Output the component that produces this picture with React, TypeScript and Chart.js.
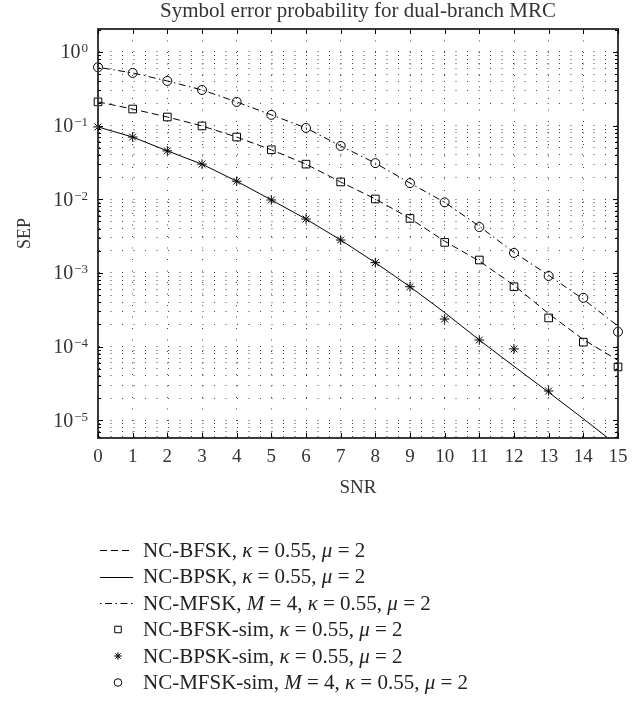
import React, { useEffect, useRef } from 'react';
import { Chart, registerables } from 'chart.js';
import { drawPoint } from 'chart.js/helpers';

Chart.register(...registerables);

// ---------------- data ----------------
const snr = [0, 1, 2, 3, 4, 5, 6, 7, 8, 9, 10, 11, 12, 13, 14, 15];

const bfskTheory = [0.21, 0.168, 0.131, 0.099, 0.07, 0.047, 0.03, 0.0172, 0.0101, 0.0055, 0.0027, 0.00145, 0.00068, 0.00028, 0.000125, 0.000065];
const bpskTheory = [0.096, 0.07, 0.0454, 0.03, 0.0176, 0.0098, 0.0054, 0.0028, 0.00138, 0.00065, 0.00029, 0.000123, 0.000054, 0.000024, 0.0000105, 0.0000045];
const mfskTheory = [0.62, 0.519, 0.404, 0.305, 0.21, 0.14, 0.093, 0.053, 0.031, 0.0166, 0.0091, 0.0043, 0.0019, 0.00093, 0.00044, 0.00019];

const bfskSim = [0.21, 0.168, 0.131, 0.099, 0.07, 0.047, 0.03, 0.0172, 0.0101, 0.0055, 0.0026, 0.0015, 0.00065, 0.000245, 0.000115, 0.000053];
const bpskSim = [0.096, 0.07, 0.0454, 0.03, 0.0176, 0.0098, 0.0054, 0.0028, 0.00138, 0.00065, 0.000237, 0.000123, 0.000093, 0.000025, null, null];
const mfskSim = [0.62, 0.519, 0.404, 0.305, 0.21, 0.14, 0.093, 0.053, 0.031, 0.0166, 0.0091, 0.0042, 0.00187, 0.00091, 0.00046, 0.000159];

const seriesLabels = [
  'NC-BFSK, κ = 0.55, μ = 2',
  'NC-BPSK, κ = 0.55, μ = 2',
  'NC-MFSK, M = 4, κ = 0.55, μ = 2',
  'NC-BFSK-sim, κ = 0.55, μ = 2',
  'NC-BPSK-sim, κ = 0.55, μ = 2',
  'NC-MFSK-sim, M = 4, κ = 0.55, μ = 2',
];

const xTickValues = [0, 1, 2, 3, 4, 5, 6, 7, 8, 9, 10, 11, 12, 13, 14, 15];
const decadeValues = [1e-5, 1e-4, 1e-3, 1e-2, 1e-1, 1];
const decadeBase = '10';
const decadeExponents = ['−5', '−4', '−3', '−2', '−1', '0'];
const minorMultipliers = [1, 2, 3, 4, 5, 6, 7, 8, 9];
const yMin = 5.75e-6;
const yMax = 2.05;

const titleText = 'Symbol error probability for dual-branch MRC';
const xTitle = 'SNR';
const yTitle = 'SEP';

const FONT = '"Liberation Serif", "Times New Roman", serif';
const TEXT_COLOR = '#333';
const FRAME_COLOR = '#3a3a3a';

function buildYTicks() {
  const out: { value: number; major: boolean }[] = [];
  const decs = [1e-6, ...decadeValues];
  for (const d of decs) {
    for (const m of minorMultipliers) {
      const v = parseFloat((d * m).toPrecision(6));
      if (v >= yMin && v <= yMax) out.push({ value: v, major: m === 1 });
    }
  }
  return out;
}

function decadeIndex(v: number) {
  return decadeValues.findIndex((d) => Math.abs(v - d) / d < 1e-6);
}

function drawRich(ctx: CanvasRenderingContext2D, text: string, x: number, y: number, size: number) {
  const parts = text.split(/(κ|μ|\bM\b)/).filter((p) => p.length > 0);
  let cx = x;
  for (const p of parts) {
    const italic = p === 'κ' || p === 'μ' || p === 'M';
    ctx.font = `${italic ? 'italic ' : ''}${size}px ${FONT}`;
    ctx.fillText(p, cx, y);
    cx += ctx.measureText(p).width;
  }
}

const overlay = {
  id: 'sepOverlay',
  afterDraw(chart: any) {
    const ctx: CanvasRenderingContext2D = chart.ctx;
    const a = chart.chartArea;
    const xs = chart.scales.x;
    const ys = chart.scales.y;
    ctx.save();
    ctx.setLineDash([]);
    ctx.globalAlpha = 1;
    ctx.globalCompositeOperation = 'source-over';
    const L = Math.round(a.left);
    const R = Math.round(a.right);
    const T = Math.round(a.top);
    const B = Math.round(a.bottom);
    // ---- frame box ----
    ctx.strokeStyle = FRAME_COLOR;
    ctx.lineWidth = 2;
    ctx.beginPath();
    ctx.moveTo(L, T);
    ctx.lineTo(R, T);
    ctx.lineTo(R, B);
    ctx.lineTo(L, B);
    ctx.closePath();
    ctx.stroke();
    // ---- inward ticks ----
    ctx.strokeStyle = '#000';
    ctx.lineWidth = 1;
    ctx.beginPath();
    for (const v of xTickValues) {
      const px = Math.round(xs.getPixelForValue(v)) + 0.5;
      ctx.moveTo(px, B);
      ctx.lineTo(px, B - 5);
      ctx.moveTo(px, T);
      ctx.lineTo(px, T + 5);
    }
    for (const t of ys.ticks) {
      const py = Math.round(ys.getPixelForValue(t.value)) + 0.5;
      const len = decadeIndex(t.value) >= 0 ? 5 : 3;
      ctx.moveTo(L, py);
      ctx.lineTo(L + len, py);
      ctx.moveTo(R, py);
      ctx.lineTo(R - len, py);
    }
    ctx.stroke();
    // ---- y tick labels (10 with superscript exponent) ----
    ctx.fillStyle = TEXT_COLOR;
    decadeValues.forEach((d, i) => {
      const py = ys.getPixelForValue(d);
      const right = L - 10;
      ctx.font = `13px ${FONT}`;
      const ew = ctx.measureText(decadeExponents[i]).width;
      ctx.font = `20px ${FONT}`;
      const bw = ctx.measureText(decadeBase).width;
      ctx.textAlign = 'left';
      ctx.textBaseline = 'middle';
      ctx.fillText(decadeBase, right - ew - bw - 1, py + 1);
      ctx.font = `13px ${FONT}`;
      ctx.textBaseline = 'alphabetic';
      ctx.fillText(decadeExponents[i], right - ew, py + 0.5);
    });
    // ---- legend ----
    const rowTop = 550;
    const rowGap = 26.5;
    const lineX1 = 100;
    const lineX2 = 133;
    const markX = 118;
    const textX = 143;
    chart.data.datasets.forEach((ds: any, i: number) => {
      const y = rowTop + i * rowGap;
      ctx.strokeStyle = '#000';
      ctx.fillStyle = 'rgba(0,0,0,0)';
      ctx.lineWidth = 1;
      if (ds.showLine !== false) {
        ctx.setLineDash(ds.borderDash || []);
        ctx.beginPath();
        ctx.moveTo(lineX1, Math.round(y) + 0.5);
        ctx.lineTo(lineX2, Math.round(y) + 0.5);
        ctx.stroke();
        ctx.setLineDash([]);
      } else {
        drawPoint(ctx, { pointStyle: ds.pointStyle, radius: ds.pointStyle === 'rect' ? 4.6 : 3.8, rotation: 0, borderWidth: 1 } as any, markX, y);
      }
      ctx.fillStyle = '#222';
      ctx.textBaseline = 'middle';
      ctx.textAlign = 'left';
      drawRich(ctx, ds.label, textX, y + 1, 21);
    });
    ctx.restore();
  },
};

export default function App() {
  const ref = useRef<HTMLCanvasElement | null>(null);

  useEffect(() => {
    if (!ref.current) return;
    const lineCommon = {
      borderColor: '#000',
      borderWidth: 1,
      pointRadius: 0,
      fill: false,
      tension: 0,
    };
    const simCommon = {
      showLine: false,
      clip: false,
      borderColor: '#000',
      backgroundColor: 'rgba(0,0,0,0)',
      pointBorderColor: '#000',
      pointBackgroundColor: 'rgba(0,0,0,0)',
      pointBorderWidth: 1,
    };
    const toXY = (arr: (number | null)[]) => snr.map((x, i) => ({ x, y: arr[i] }));

    const chart = new Chart(ref.current, {
      type: 'line',
      data: {
        datasets: [
          { ...lineCommon, label: seriesLabels[0], data: toXY(bfskTheory), borderDash: [7, 4] },
          { ...lineCommon, label: seriesLabels[1], data: toXY(bpskTheory), borderDash: [] },
          { ...lineCommon, label: seriesLabels[2], data: toXY(mfskTheory), borderDash: [1.5, 3.5, 7, 3.5] },
          { ...simCommon, label: seriesLabels[3], data: toXY(bfskSim), pointStyle: 'rect', pointRadius: 5.4 },
          { ...simCommon, label: seriesLabels[4], data: toXY(bpskSim), pointStyle: 'star', pointRadius: 4.8 },
          { ...simCommon, label: seriesLabels[5], data: toXY(mfskSim), pointStyle: 'circle', pointRadius: 4.5 },
        ] as any,
      },
      options: {
        animation: false,
        responsive: false,
        devicePixelRatio: 1,
        events: [],
        layout: { padding: { left: 0, right: 26, top: 0, bottom: 203 } },
        plugins: {
          legend: { display: false },
          tooltip: { enabled: false },
          title: {
            display: true,
            text: titleText,
            fullSize: false,
            color: TEXT_COLOR,
            font: { family: FONT, size: 21, weight: 'normal', lineHeight: 1 },
            padding: { top: 0.5, bottom: 7.5 },
          },
        },
        scales: {
          x: {
            type: 'linear',
            min: 0,
            max: 15,
            afterBuildTicks: (s: any) => {
              s.ticks = xTickValues.map((v) => ({ value: v }));
            },
            afterFit: (s: any) => {
              s.height = 61;
            },
            ticks: {
              autoSkip: false,
              maxRotation: 0,
              padding: 7.6,
              color: TEXT_COLOR,
              font: { family: FONT, size: 19 },
              callback: (v: any) => String(v),
            },
            grid: { drawTicks: false, color: '#444', lineWidth: 1 },
            border: { display: true, color: FRAME_COLOR, width: 2, dash: [1, 10.5] },
            title: {
              display: true,
              text: xTitle,
              color: TEXT_COLOR,
              font: { family: FONT, size: 19 },
              padding: { top: 0, bottom: 0 },
            },
          },
          y: {
            type: 'logarithmic',
            min: yMin,
            max: yMax,
            afterBuildTicks: (s: any) => {
              s.ticks = buildYTicks();
            },
            afterFit: (s: any) => {
              s.width = 98;
            },
            ticks: {
              autoSkip: false,
              padding: 10,
              color: TEXT_COLOR,
              font: { family: FONT, size: 18 },
              callback: () => '',
            },
            grid: { drawTicks: false, color: '#444', lineWidth: 1 },
            border: { display: true, color: FRAME_COLOR, width: 2, dash: [1, 10.5] },
            title: {
              display: true,
              text: yTitle,
              color: TEXT_COLOR,
              font: { family: FONT, size: 18 },
              padding: { top: 14, bottom: 0 },
            },
          },
        },
      } as any,
      plugins: [overlay],
    });
    return () => chart.destroy();
  }, []);

  return (
    <canvas
      ref={ref}
      width={644}
      height={702}
      style={{ position: 'absolute', left: 0, top: 0, display: 'block' }}
    />
  );
}
